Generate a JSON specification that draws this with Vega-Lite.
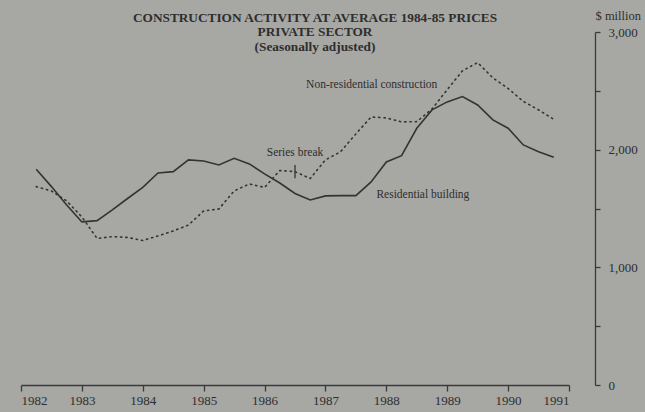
{
  "$schema": "https://vega.github.io/schema/vega-lite/v6.json",
  "autosize": {"type": "none"},
  "width": 548,
  "height": 353,
  "padding": {"left": 21, "top": 32, "right": 76, "bottom": 27},
  "background": "#a7a7a4",
  "title": {
    "text": ["CONSTRUCTION ACTIVITY AT AVERAGE 1984-85 PRICES", "PRIVATE SECTOR", "(Seasonally adjusted)"],
    "font": "Liberation Serif",
    "fontSize": 13.3,
    "fontWeight": "bold",
    "color": "#2e2e2e",
    "anchor": "middle",
    "frame": "group",
    "dx": 20,
    "lineHeight": 14.2,
    "baseline": "top",
    "offset": -44
  },
  "data": {
    "values": [
      {"q": 1982.25, "res": 1833, "nonres": 1686},
      {"q": 1982.5, "res": 1686, "nonres": 1649},
      {"q": 1982.75, "res": 1530, "nonres": 1564},
      {"q": 1983, "res": 1386, "nonres": 1428},
      {"q": 1983.25, "res": 1397, "nonres": 1245},
      {"q": 1983.5, "res": 1488, "nonres": 1261},
      {"q": 1983.75, "res": 1585, "nonres": 1254},
      {"q": 1984, "res": 1679, "nonres": 1228},
      {"q": 1984.25, "res": 1802, "nonres": 1267},
      {"q": 1984.5, "res": 1813, "nonres": 1309},
      {"q": 1984.75, "res": 1913, "nonres": 1360},
      {"q": 1985, "res": 1904, "nonres": 1479},
      {"q": 1985.25, "res": 1870, "nonres": 1496},
      {"q": 1985.5, "res": 1927, "nonres": 1649},
      {"q": 1985.75, "res": 1879, "nonres": 1709},
      {"q": 1986, "res": 1794, "nonres": 1679},
      {"q": 1986.25, "res": 1717, "nonres": 1823},
      {"q": 1986.5, "res": 1628, "nonres": 1813},
      {"q": 1986.75, "res": 1573, "nonres": 1755},
      {"q": 1987, "res": 1607, "nonres": 1913},
      {"q": 1987.25, "res": 1609, "nonres": 1983},
      {"q": 1987.5, "res": 1609, "nonres": 2134},
      {"q": 1987.75, "res": 1726, "nonres": 2278},
      {"q": 1988, "res": 1896, "nonres": 2270},
      {"q": 1988.25, "res": 1949, "nonres": 2236},
      {"q": 1988.5, "res": 2182, "nonres": 2238},
      {"q": 1988.75, "res": 2338, "nonres": 2346},
      {"q": 1989, "res": 2406, "nonres": 2510},
      {"q": 1989.25, "res": 2451, "nonres": 2670},
      {"q": 1989.5, "res": 2380, "nonres": 2740},
      {"q": 1989.75, "res": 2253, "nonres": 2610},
      {"q": 1990, "res": 2182, "nonres": 2520},
      {"q": 1990.25, "res": 2040, "nonres": 2410},
      {"q": 1990.5, "res": 1983, "nonres": 2338},
      {"q": 1990.75, "res": 1935, "nonres": 2258}
    ]
  },
  "layer": [
    {
      "mark": {"type": "line", "color": "#343434", "strokeWidth": 1.6, "strokeDash": [1.3, 4], "strokeCap": "round"},
      "encoding": {
        "x": {
          "field": "q", "type": "quantitative",
          "scale": {"domain": [1982, 1991], "nice": false, "zero": false},
          "axis": {
            "values": [1982, 1983, 1984, 1985, 1986, 1987, 1988, 1989, 1990, 1991],
            "format": "d", "title": null, "grid": false,
            "tickSize": 6, "labelPadding": 3,
            "domainColor": "#3a3a3a", "tickColor": "#3a3a3a", "domainWidth": 1.3, "tickWidth": 1.3,
            "labelFont": "Liberation Serif", "labelFontSize": 13, "labelColor": "#2e2e2e"
          }
        },
        "y": {
          "field": "nonres", "type": "quantitative",
          "scale": {"domain": [0, 3000], "nice": false},
          "axis": {
            "orient": "right", "offset": 26,
            "values": [0, 500, 1000, 1500, 2000, 2500, 3000],
            "labelExpr": "datum.value % 1000 === 0 ? format(datum.value, ',') : ''",
            "grid": false, "tickSize": 5, "labelPadding": 8,
            "domainColor": "#3a3a3a", "tickColor": "#3a3a3a", "domainWidth": 1.3, "tickWidth": 1.3,
            "labelFont": "Liberation Serif", "labelFontSize": 13, "labelColor": "#2e2e2e",
            "title": "$ million", "titleAngle": 0, "titleAlign": "left", "titleBaseline": "bottom",
            "titleX": 0, "titleY": -10, "titleFont": "Liberation Serif", "titleFontSize": 12.5,
            "titleFontWeight": "normal", "titleColor": "#2e2e2e"
          }
        }
      }
    },
    {
      "mark": {"type": "line", "color": "#333333", "strokeWidth": 1.6},
      "encoding": {
        "x": {"field": "q", "type": "quantitative"},
        "y": {"field": "res", "type": "quantitative"}
      }
    },
    {
      "data": {"values": [{"q": 1986.5, "lo": 1757, "hi": 1870}]},
      "mark": {"type": "rule", "color": "#333333", "strokeWidth": 1.3},
      "encoding": {
        "x": {"field": "q", "type": "quantitative"},
        "y": {"field": "lo", "type": "quantitative"},
        "y2": {"field": "hi"}
      }
    },
    {
      "data": {
        "values": [
          {"q": 1987.76, "v": 2550, "label": "Non-residential construction"},
          {"q": 1988.6, "v": 1615, "label": "Residential building"},
          {"q": 1986.5, "v": 1972, "label": "Series break"}
        ]
      },
      "mark": {"type": "text", "font": "Liberation Serif", "fontSize": 11.5, "color": "#2e2e2e", "align": "center", "baseline": "middle"},
      "encoding": {
        "x": {"field": "q", "type": "quantitative"},
        "y": {"field": "v", "type": "quantitative"},
        "text": {"field": "label"}
      }
    }
  ],
  "config": {"view": {"stroke": null}}
}
